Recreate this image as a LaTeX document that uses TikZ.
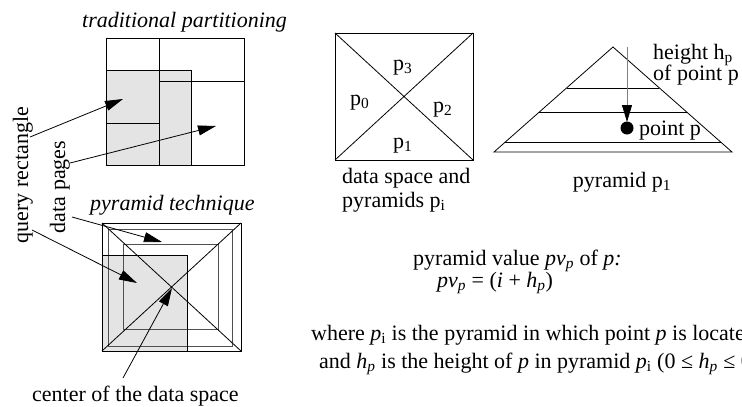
\documentclass[tikz,border=0pt]{standalone}
\usepackage{fontspec}
\setmainfont{Liberation Serif}
\usetikzlibrary{arrows.meta,calc}
\definecolor{qgray}{HTML}{E4E4E4}
\definecolor{rgray}{HTML}{505050}
\newcommand{\iv}[1]{\textit{#1}}
\tikzset{
  txt/.style={inner sep=0pt, anchor=base west, font=\fontsize{22}{24}\selectfont},
  ttl/.style={txt, font=\fontsize{22}{24}\selectfont\itshape},
  side/.style={txt, anchor=base, rotate=90},
  part/.style={line width=0.8pt},
  arr/.style={-{Triangle[length=18pt,width=10pt]}, line width=0.8pt},
  garr/.style={-{Triangle[length=17pt,width=10pt,color=black]}, line width=0.8pt, draw=black!50}}

\begin{document}
\begin{tikzpicture}[x=1pt, y=-1pt]
  \clip (0,0) rectangle (742,407);
  % traditional partitioning
  \node[ttl] (tradttl) at (82,27) {traditional partitioning};
  \fill[qgray] (106,70) rectangle (191,165);
  \draw[part] (106,38) rectangle (244,165);
  \draw[part] (159,38) -- (159,165);
  \draw[part] (159,81) -- (244,81);
  \draw[part] (106,123) -- (159,123);
  \draw[part] (106,70) -- (191,70) -- (191,165);
  % pyramid technique
  \node[ttl] (pyrttl) at (90,210) {pyramid technique};
  \fill[qgray] (102,255) rectangle (187,351);
  \draw[part, rgray] (108,229) rectangle (232,346);
  \draw[part, rgray] (123,244) rectangle (218,329);
  \draw[part] (102,223) rectangle (241,351);
  \draw[part] (102,223) -- (241,351) (241,223) -- (102,351);
  \draw[part] (102,255) -- (187,255) -- (187,351);
  \coordinate (ctr) at (172,288);
  % labels on the left and their arrows
  \node[side] (qlab) at (28,175) {query rectangle};
  \node[side] (dlab) at (65,187) {data pages};
  \node[txt] (clab) at (32,401) {center of the data space};
  \coordinate (qs1) at (30,137);  \coordinate (qt1) at (123,99);
  \coordinate (ds1) at (70,163);  \coordinate (dt1) at (216,126);
  \coordinate (qs2) at (32,230);  \coordinate (qt2) at (137,283);
  \coordinate (ds2) at (72,217);  \coordinate (dt2) at (162,242);
  \coordinate (cs) at (123,378);
  \draw[arr] (qs1) -- (qt1);
  \draw[arr] (ds1) -- (dt1);
  \draw[arr] (qs2) -- (qt2);
  \draw[arr] (ds2) -- (dt2);
  \draw[arr] (cs) -- (ctr);
  % data space and its pyramids
  \draw[part] (335,33) rectangle (473,160);
  \draw[part] (335,33) -- (473,160) (473,33) -- (335,160);
  \node[txt] (pthree) at (393,70)  {p\textsubscript{3}};
  \node[txt] (pzero)  at (350,105) {p\textsubscript{0}};
  \node[txt] (ptwo)   at (433,112) {p\textsubscript{2}};
  \node[txt] (pone)   at (393,148) {p\textsubscript{1}};
  \node[txt] (dslab1) at (342,183) {data space and};
  \node[txt] (dslab2) at (342,207) {pyramids p\textsubscript{i}};
  % pyramid p1 seen from the side
  \coordinate (apex) at (613,47);
  \coordinate (bl) at (494,152);
  \coordinate (br) at (732,152);
  \draw[part] (bl) -- (apex) -- (br) -- cycle;
  \foreach \f in {0.390,0.619,0.905}
    \draw[part] ($(apex)!\f!(bl)$) -- ($(apex)!\f!(br)$);
  \coordinate (htop) at (627,47);
  \coordinate (htip) at (627,122);
  \draw[garr] (htop) -- (htip);
  \node[circle, fill=black, inner sep=0pt, minimum size=13pt] (ptp) at (627,128) {};
  \node[txt] (hlab1) at (653,59) {height h\textsubscript{p}};
  \node[txt] (hlab2) at (653,80) {of point p};
  \node[txt] (ptlab) at (639,135) {point p};
  \node[txt, anchor=base] (p1lab) at (622,187) {pyramid p\textsubscript{1}};
  % pyramid value
  \node[txt] (pvlab) at (413,265) {pyramid value \iv{pv}\textsubscript{\iv{p}} of \iv{p:}};
  \node[txt] (pveq)  at (437,287) {\iv{pv}\textsubscript{\iv{p}} = (\iv{i} + \iv{h}\textsubscript{\iv{p}})};
  \node[txt] (where1) at (311,340) {where \iv{p}\textsubscript{i} is the pyramid in which point \iv{p} is located};
  \node[txt] (where2) at (319,368) {and \iv{h}\textsubscript{\iv{p}} is the height of \iv{p} in pyramid \iv{p}\textsubscript{i} (0 ≤ \iv{h}\textsubscript{\iv{p}} ≤ 0.5)};
\end{tikzpicture}
\end{document}
